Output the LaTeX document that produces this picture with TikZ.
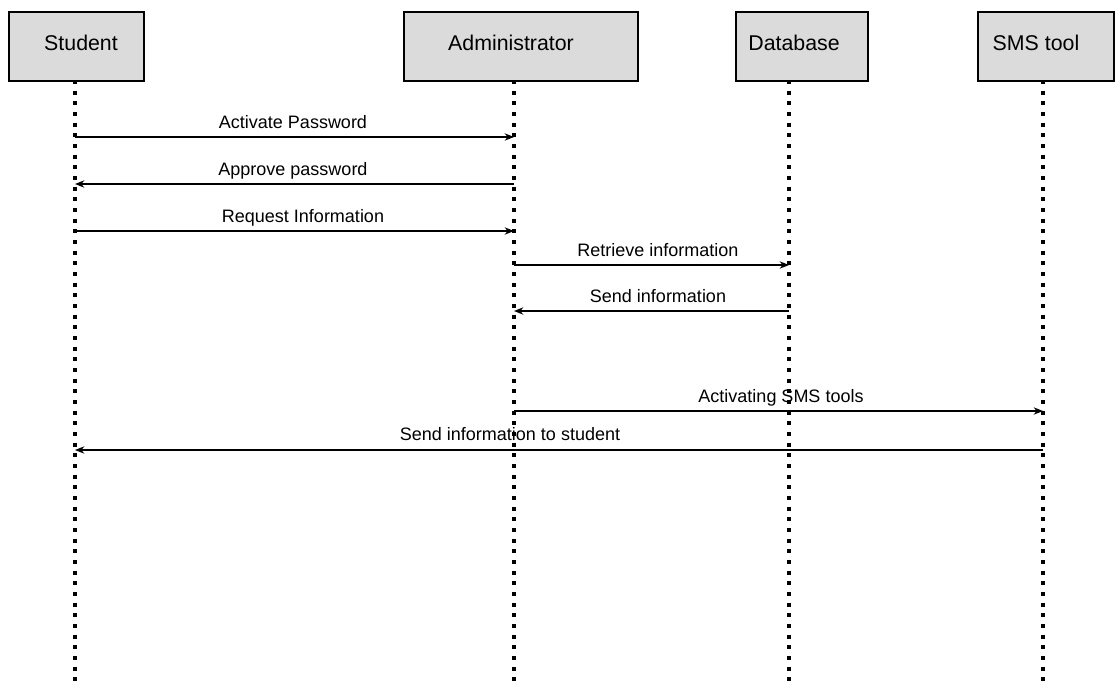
\documentclass[tikz,border=0pt]{standalone}
\usepackage{fontspec}
\setmainfont{Liberation Sans}
\usetikzlibrary{arrows.meta,calc}
\begin{document}
\begin{tikzpicture}[x=0.75pt,y=-0.75pt,
  actorbox/.style={draw=black,line width=1.5pt,fill=black!14,inner sep=0pt,anchor=north west},
  actorname/.style={font=\fontsize{16}{19}\selectfont,inner sep=0pt},
  lifeline/.style={line width=3pt,dash pattern=on 3pt off 5pt},
  msg/.style={line width=1.1pt,-{Stealth[length=7pt,width=5.5pt]}},
  msglabel/.style={font=\fontsize{13.5}{16}\selectfont,anchor=base,inner sep=0pt}]
\useasboundingbox (0,0) rectangle (1119,687);
% actor boxes
\node[actorbox,minimum width=101.25pt,minimum height=51.75pt] (studentbox) at (8,11) {};
\node[actorbox,minimum width=175.5pt,minimum height=51.75pt] (adminbox) at (403,11) {};
\node[actorbox,minimum width=99pt,minimum height=51.75pt] (dbbox) at (735,11) {};
\node[actorbox,minimum width=102pt,minimum height=51.75pt] (smsbox) at (977,11) {};
\node[actorname] (studentname) at (81,43) {Student};
\node[actorname] (adminname) at (511,43) {Administrator};
\node[actorname] (dbname) at (794,43) {Database};
\node[actorname] (smsname) at (1036,43) {SMS tool};
% lifelines
\coordinate (sT) at (75,80);   \coordinate (sB) at (75,687);
\coordinate (aT) at (514,80);  \coordinate (aB) at (514,687);
\coordinate (dT) at (789,80);  \coordinate (dB) at (789,687);
\coordinate (mT) at (1043,80); \coordinate (mB) at (1043,687);
\draw[lifeline] (sT) -- (sB);
\draw[lifeline] (aT) -- (aB);
\draw[lifeline] (dT) -- (dB);
\draw[lifeline] (mT) -- (mB);
% messages
\draw[msg] ($(sT)+(0,57)$) -- ($(aT)+(0,57)$);
\node[msglabel] (l1) at (293,128) {Activate Password};
\draw[msg] ($(aT)+(0,104)$) -- ($(sT)+(0,104)$);
\node[msglabel] (l2) at (293,175) {Approve password};
\draw[msg] ($(sT)+(0,151)$) -- ($(aT)+(0,151)$);
\node[msglabel] (l3) at (303,222) {Request Information};
\draw[msg] ($(aT)+(0,185)$) -- ($(dT)+(0,185)$);
\node[msglabel] (l4) at (658,256) {Retrieve information};
\draw[msg] ($(dT)+(0,231)$) -- ($(aT)+(0,231)$);
\node[msglabel] (l5) at (658,302) {Send information};
\draw[msg] ($(aT)+(0,331)$) -- ($(mT)+(0,331)$);
\node[msglabel] (l6) at (781,402) {Activating SMS tools};
\draw[msg] ($(mT)+(0,370)$) -- ($(sT)+(0,370)$);
\node[msglabel] (l7) at (510,440) {Send information to student};
\end{tikzpicture}
\end{document}
